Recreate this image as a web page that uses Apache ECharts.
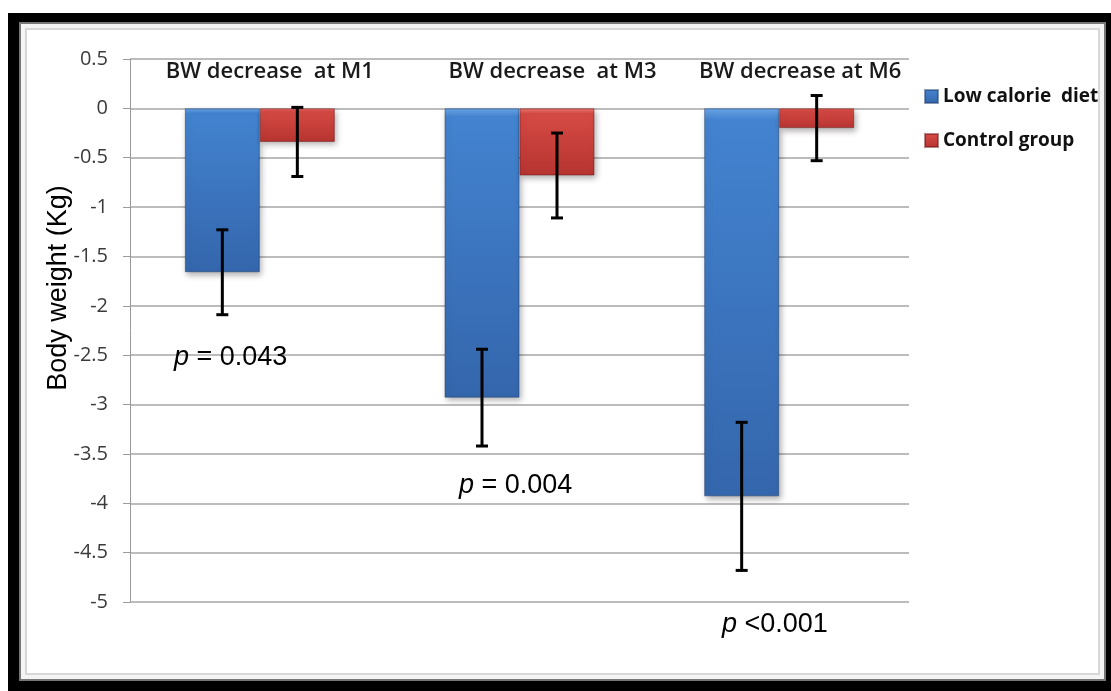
<!DOCTYPE html>
<html>
<head>
<meta charset="utf-8">
<script src="https://cdn.jsdelivr.net/npm/echarts@6/dist/echarts.min.js"></script>
<style>
  html, body { margin: 0; padding: 0; background: #fff; }
  #chart { width: 1111px; height: 691px; }
</style>
</head>
<body>
<div id="chart"></div>
<script>
// Body-weight change per follow-up month, mean with error bars
const categories = ['BW decrease  at M1', 'BW decrease  at M3', 'BW decrease at M6'];
const seriesNames = ['Low calorie  diet', 'Control group'];
const lowCalorie = [-1.66, -2.93, -3.93];
const lowCalorieErr = [0.43, 0.49, 0.75];
const control = [-0.34, -0.68, -0.20];
const controlErr = [0.35, 0.43, 0.33];
const yMin = -5, yMax = 0.5, yStep = 0.5;
const yTitle = 'Body weight (Kg)';
const pValues = ['= 0.043', '= 0.004', '<0.001'];

const BAR_W = 75;
const tickFont = '"Open Sans", sans-serif';
const arial = '"Liberation Sans", Arial, sans-serif';

function errorData(means, errs, side) {
  return means.map((m, i) => [i, m, errs[i], side]);
}

function renderError(params, api) {
  const ci = api.value(0), m = api.value(1), e = api.value(2), side = api.value(3);
  const top = api.coord([ci, m + e]);
  const bot = api.coord([ci, m - e]);
  const x = top[0] + side * BAR_W / 2;
  const cap = 6;
  const st = { stroke: '#000', lineWidth: 3 };
  return {
    type: 'group',
    children: [
      { type: 'line', shape: { x1: x, y1: top[1], x2: x, y2: bot[1] }, style: st },
      { type: 'line', shape: { x1: x - cap, y1: top[1], x2: x + cap, y2: top[1] }, style: st },
      { type: 'line', shape: { x1: x - cap, y1: bot[1], x2: x + cap, y2: bot[1] }, style: st }
    ]
  };
}

const blueFill = new echarts.graphic.LinearGradient(0, 0, 0, 1, [
  { offset: 0, color: '#6aa6e8' },
  { offset: 0.03, color: '#4383d0' },
  { offset: 1, color: '#3466ac' }
]);
const redFill = new echarts.graphic.LinearGradient(0, 0, 0, 1, [
  { offset: 0, color: '#ec7a74' },
  { offset: 0.08, color: '#d64a44' },
  { offset: 1, color: '#b73430' }
]);

const catLabel = (pad) => ({
  padding: [0, 0, 0, pad], fontFamily: tickFont, fontWeight: 600, fontSize: 22, color: '#1a1a1a'
});

const chart = echarts.init(document.getElementById('chart'), null, { renderer: 'canvas' });

const pPos = [[174, 371], [459, 499], [722, 638]];

chart.setOption({
  animation: false,
  backgroundColor: '#fff',
  grid: { left: 130, right: 202, top: 59, bottom: 89, containLabel: false },
  legend: {
    orient: 'vertical',
    left: 919,
    top: 82,
    itemWidth: 13,
    itemHeight: 13,
    itemGap: 25,
    icon: 'rect',
    data: seriesNames,
    textStyle: { fontFamily: tickFont, fontWeight: 700, fontSize: 19, color: '#111' }
  },
  xAxis: {
    type: 'category',
    position: 'top',
    data: categories,
    axisLine: { show: false },
    axisTick: { show: false },
    splitLine: { show: false },
    axisLabel: {
      inside: true,
      margin: 2,
      interval: 0,
      formatter: (v, i) => '{c' + i + '|' + v + '}',
      rich: { c0: catLabel(20), c1: catLabel(66), c2: catLabel(42) }
    }
  },
  yAxis: {
    type: 'value',
    min: yMin,
    max: yMax,
    interval: yStep,
    axisLine: { show: true, lineStyle: { color: '#9a9a9a', width: 1 } },
    axisTick: { show: true, inside: false, length: 7, lineStyle: { color: '#9a9a9a' } },
    splitLine: { show: true, lineStyle: { color: '#a6a6a6', width: 1.5 } },
    axisLabel: { margin: 22, fontFamily: tickFont, fontSize: 20, color: '#3a3a3a' }
  },
  series: [
    {
      name: seriesNames[0],
      type: 'bar',
      data: lowCalorie,
      barWidth: BAR_W,
      barGap: '0%',
      itemStyle: {
        color: blueFill,
        borderColor: 'rgba(30,60,110,0.5)',
        borderWidth: 1,
        shadowBlur: 6,
        shadowColor: 'rgba(0,0,0,0.3)',
        shadowOffsetX: 2,
        shadowOffsetY: 3
      }
    },
    {
      name: seriesNames[1],
      type: 'bar',
      data: control,
      barWidth: BAR_W,
      barGap: '0%',
      itemStyle: {
        color: redFill,
        borderColor: 'rgba(110,20,20,0.5)',
        borderWidth: 1,
        shadowBlur: 6,
        shadowColor: 'rgba(0,0,0,0.3)',
        shadowOffsetX: 2,
        shadowOffsetY: 3
      }
    },
    {
      type: 'custom',
      renderItem: renderError,
      data: errorData(lowCalorie, lowCalorieErr, -1),
      encode: { x: 0, y: 1 },
      z: 5
    },
    {
      type: 'custom',
      renderItem: renderError,
      data: errorData(control, controlErr, 1),
      encode: { x: 0, y: 1 },
      z: 5
    }
  ],
  graphic: [
    // outer black frame with an inner grey rule
    { type: 'rect', z: -20, shape: { x: 8, y: 13, width: 1103, height: 678 }, style: { fill: '#000' } },
    { type: 'rect', z: -19, shape: { x: 20, y: 23, width: 1085, height: 657 }, style: { fill: '#f4f4f4', stroke: '#777', lineWidth: 2 } },
    { type: 'rect', z: -18, shape: { x: 26, y: 29, width: 1073, height: 645 }, style: { fill: '#fff', stroke: '#d8d8d8', lineWidth: 2 } },
    {
      type: 'text',
      z: 10,
      x: 59,
      y: 288,
      rotation: Math.PI / 2,
      style: {
        text: yTitle,
        fill: '#000',
        font: '27px "Liberation Sans", Arial, sans-serif',
        align: 'center',
        verticalAlign: 'middle'
      }
    }
  ].concat(pValues.map((t, i) => ({
    type: 'text',
    z: 10,
    x: pPos[i][0],
    y: pPos[i][1],
    style: {
      text: '{i|p} ' + t,
      fill: '#000',
      font: '27px "Liberation Sans", Arial, sans-serif',
      align: 'left',
      verticalAlign: 'bottom',
      rich: {
        i: { fontStyle: 'italic', fontFamily: arial, fontSize: 27, fill: '#000' }
      }
    }
  })))
});
</script>
</body>
</html>
